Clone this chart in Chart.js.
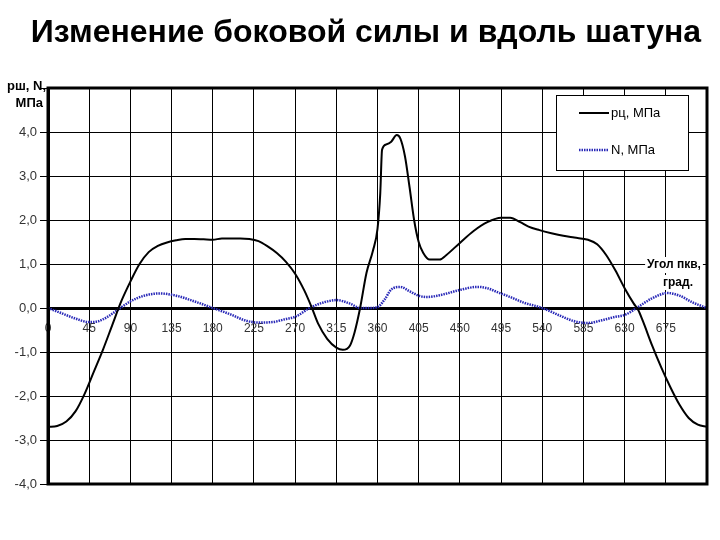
<!DOCTYPE html>
<html><head><meta charset="utf-8">
<script src="https://cdn.jsdelivr.net/npm/chart.js@4.4.1/dist/chart.umd.min.js"></script>
<style>html,body{margin:0;padding:0;background:#fff}#wrap{width:720px;height:540px}</style>
</head><body><div id="wrap"><canvas id="c" width="720" height="540"></canvas></div>
<script>
const chartTitle = 'Изменение боковой силы и вдоль шатуна';
const yTitle = ['рш, N,', 'МПа'];
const xTitle = ['Угол пкв,', 'град.'];
const seriesNames = ['рц, МПа', 'N, МПа'];
const xTicks = [0,45,90,135,180,225,270,315,360,405,450,495,540,585,630,675,720];
const yTicks = [-4,-3,-2,-1,0,1,2,3,4,5];

const angleP = [0,10,20,30,40,50,60,70,80,90,100,110,120,130,140,150,160,170,180,190,200,210,220,230,240,250,260,270,280,288,295,305,315,322,330,335,341,348,355,360,363,365,370,375,381,385,390,395,400,405,410,417,428,435,450,465,480,495,505,516,525,537,550,563,575,590,600,610,620,630,640,645,650,660,670,680,690,700,710,720];
const valP = [-2.7,-2.68,-2.58,-2.35,-1.95,-1.45,-0.95,-0.4,0.15,0.6,1.0,1.27,1.41,1.49,1.54,1.57,1.57,1.56,1.55,1.58,1.58,1.58,1.57,1.52,1.4,1.25,1.05,0.78,0.4,0.02,-0.35,-0.7,-0.9,-0.95,-0.85,-0.55,0,0.8,1.3,1.8,2.6,3.6,3.72,3.78,3.93,3.85,3.45,2.75,2.0,1.5,1.25,1.1,1.1,1.2,1.48,1.75,1.95,2.05,2.05,1.95,1.85,1.77,1.7,1.64,1.6,1.55,1.45,1.2,0.85,0.45,0.1,-0.05,-0.3,-0.85,-1.35,-1.8,-2.2,-2.5,-2.65,-2.7];

const angleN = [0,15,30,45,55,65,79,90,105,122,140,160,180,200,215,230,245,260,270,286,300,315,330,341,350,360,368,375,385,395,405,414,430,450,469,480,491,505,520,540,560,575,590,605,620,630,643,660,677,690,705,720];
const valN = [0,-0.12,-0.24,-0.32,-0.3,-0.2,0,0.15,0.28,0.33,0.28,0.15,0,-0.15,-0.28,-0.33,-0.32,-0.25,-0.2,0,0.12,0.18,0.1,0,0,0.02,0.2,0.42,0.48,0.38,0.28,0.25,0.3,0.41,0.48,0.45,0.36,0.25,0.12,0,-0.18,-0.3,-0.34,-0.28,-0.2,-0.16,0,0.22,0.34,0.28,0.12,0];

const toXY = (xs, ys) => xs.map((x, i) => ({x, y: ys[i]}));
const FONT = '"Liberation Sans", Arial, sans-serif';

const decor = {
  id: 'decor',
  afterDraw(chart) {
    const ctx = chart.ctx, a = chart.chartArea;
    ctx.save();
    ctx.strokeStyle = '#000'; ctx.lineWidth = 3;
    ctx.strokeRect(a.left, a.top, a.right - a.left, a.bottom - a.top);
    ctx.fillStyle = '#000';
    ctx.font = 'bold 32px ' + FONT;
    ctx.textAlign = 'center'; ctx.textBaseline = 'middle';
    ctx.fillText(chartTitle, 366, 33);
    ctx.font = 'bold 13px ' + FONT;
    ctx.textAlign = 'right';
    ctx.fillText(yTitle[0], 46, 86);
    ctx.fillText(yTitle[1], 43, 103);
    ctx.font = 'bold 12px ' + FONT;
    ctx.textAlign = 'center';
    const w0 = ctx.measureText(xTitle[0]).width, w1 = ctx.measureText(xTitle[1]).width;
    ctx.fillStyle = '#fff';
    ctx.fillRect(674 - w0/2 - 2, 257, w0 + 4, 16);
    ctx.fillRect(678 - w1/2 - 2, 275, w1 + 4, 15);
    ctx.fillStyle = '#000';
    ctx.fillText(xTitle[0], 674, 265);
    ctx.fillText(xTitle[1], 678, 283);
    ctx.fillStyle = '#fff';
    ctx.fillRect(556, 95, 132, 75);
    ctx.strokeStyle = '#000'; ctx.lineWidth = 1;
    ctx.strokeRect(556.5, 95.5, 132, 75);
    const ys = [113, 150];
    chart.data.datasets.forEach((ds, i) => {
      ctx.strokeStyle = ds.borderColor;
      ctx.lineWidth = ds.borderWidth;
      ctx.setLineDash(ds.borderDash || []);
      ctx.beginPath(); ctx.moveTo(579, ys[i]); ctx.lineTo(609, ys[i]); ctx.stroke();
      ctx.setLineDash([]);
      ctx.fillStyle = '#000';
      ctx.font = '13px ' + FONT;
      ctx.textAlign = 'left'; ctx.textBaseline = 'middle';
      ctx.fillText(ds.label, 611, ys[i]);
    });
    ctx.restore();
  }
};

new Chart(document.getElementById('c'), {
  type: 'line',
  data: {
    datasets: [
      {label: seriesNames[0], data: toXY(angleP, valP), borderColor: '#000000', borderWidth: 2, pointRadius: 0, cubicInterpolationMode: 'monotone', fill: false},
      {label: seriesNames[1], data: toXY(angleN, valN), borderColor: '#2a2ab8', borderWidth: 2.5, borderDash: [1.5, 1], pointRadius: 0, cubicInterpolationMode: 'monotone', fill: false}
    ]
  },
  options: {
    responsive: false, animation: false,
    layout: {padding: {top: 88, bottom: 56, left: 0, right: 13}},
    plugins: {legend: {display: false}, tooltip: {enabled: false}, title: {display: false}},
    scales: {
      x: {
        type: 'linear', min: 0, max: 720, position: {y: 0},
        afterBuildTicks: s => { s.ticks = xTicks.map(v => ({value: v})); },
        ticks: {callback: v => v === 720 ? '' : String(v), color: '#333', font: {family: FONT, size: 12}, padding: 7, maxRotation: 0, autoSkip: false},
        grid: {color: '#000', lineWidth: 1, tickLength: 6},
        border: {display: true, color: '#000', width: 3}
      },
      y: {
        min: -4, max: 5,
        afterBuildTicks: s => { s.ticks = yTicks.map(v => ({value: v})); },
        afterFit: s => { s.width = 48; },
        ticks: {callback: v => v === 5 ? '' : v.toFixed(1).replace('.', ','), color: '#333', font: {family: FONT, size: 13}, padding: 3},
        grid: {color: '#000', lineWidth: 1, tickLength: 8},
        border: {display: true, color: '#000', width: 3}
      }
    }
  },
  plugins: [decor]
});
</script></body></html>
